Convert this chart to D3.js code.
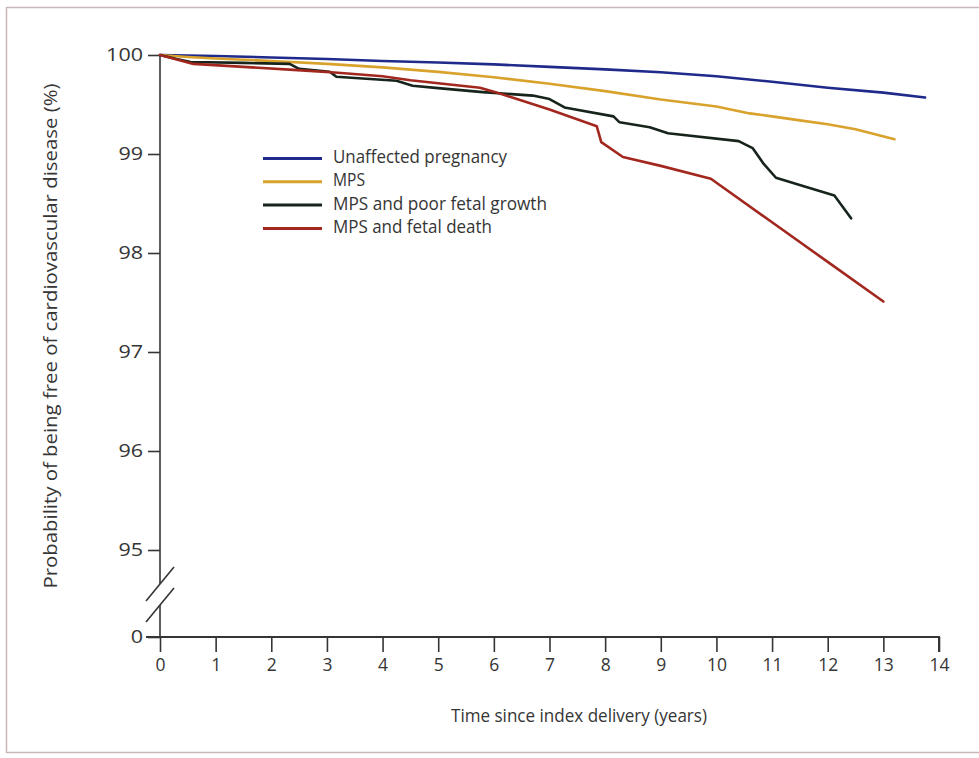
<!DOCTYPE html>
<html>
<head>
<meta charset="utf-8">
<script src="https://cdn.jsdelivr.net/npm/d3@7"></script>
<style>
  html, body { margin: 0; padding: 0; background: #ffffff; }
  svg { display: block; }
  text { font-family: "Open Sans", "Noto Sans", sans-serif; fill: #353535; }
</style>
</head>
<body>
<svg id="chart" width="979" height="758"></svg>
<script>
// ---------- data ----------
const xTicks = [0,1,2,3,4,5,6,7,8,9,10,11,12,13,14];
const yTicks = [0,95,96,97,98,99,100];
const seriesNames = ["Unaffected pregnancy","MPS","MPS and poor fetal growth","MPS and fetal death"];
const seriesColors = ["#1f2a8a","#d8a22c","#17241b","#a2281f"];

const unaffected = [[0,100],[1,99.99],[2,99.975],[3,99.96],[4,99.94],[5,99.925],[6,99.905],[7,99.88],[8,99.855],[9,99.825],[10,99.785],[11,99.73],[12,99.67],[13,99.62],[13.75,99.57]];
const mps = [[0,100],[0.5,99.98],[1,99.965],[2,99.94],[3,99.91],[4,99.875],[5,99.83],[6,99.775],[7,99.71],[8,99.635],[9,99.55],[10,99.48],[10.6,99.41],[11,99.38],[11.5,99.34],[12,99.3],[12.5,99.25],[13.2,99.15]];
const poorGrowth = [[0,100],[0.3,99.96],[0.55,99.93],[1.5,99.92],[2.33,99.91],[2.5,99.86],[3.05,99.83],[3.17,99.78],[4.25,99.74],[4.54,99.69],[5,99.665],[5.8,99.625],[6.7,99.59],[7.0,99.555],[7.27,99.47],[8.15,99.38],[8.26,99.32],[8.8,99.27],[9.13,99.21],[10.4,99.13],[10.65,99.06],[10.85,98.9],[11.07,98.76],[11.6,98.67],[12.12,98.58],[12.42,98.35]];
const fetalDeath = [[0,100],[0.6,99.91],[1.5,99.88],[2.4,99.85],[3.2,99.82],[4.0,99.785],[4.5,99.745],[5.75,99.67],[6.0,99.63],[7.0,99.45],[7.85,99.28],[7.93,99.12],[8.32,98.97],[9.0,98.88],[9.9,98.75],[11,98.31],[12,97.91],[13,97.51]];
const seriesData = [unaffected, mps, poorGrowth, fetalDeath];

const yTitle = "Probability of being free of cardiovascular disease (%)";
const xTitle = "Time since index delivery (years)";

// ---------- layout ----------
const svg = d3.select("#chart");
const mLeft = 160, mTop = 55, mRight = 939, zeroY = 637, y95 = 550;

// frame
svg.append("rect")
  .attr("x", 6.5).attr("y", 7.5).attr("width", 1000).attr("height", 745)
  .attr("fill", "none").attr("stroke", "#cbb6b9").attr("stroke-width", 1.5);

const x = d3.scaleLinear().domain([0, 14]).range([mLeft, mRight]);
const y = d3.scaleLinear().domain([0, 95, 100]).range([zeroY, y95, mTop]);
const axisColor = "#353535";

// y axis
const yAxis = svg.append("g").attr("transform", `translate(${mLeft},0)`)
  .call(d3.axisLeft(y).tickValues(yTicks).tickSize(12).tickPadding(5));
yAxis.select(".domain").remove();
yAxis.selectAll(".tick line").attr("stroke", axisColor).attr("stroke-width", 1.6);
yAxis.selectAll(".tick text").style("font-size", "18.5px").attr("fill", "#353535")
  .attr("textLength", d => String(d).length * 12.3).attr("lengthAdjust", "spacingAndGlyphs");

// y axis line with break
const breakTop = y(95) + 34, breakBot = y(95) + 55;
svg.append("line").attr("x1", mLeft).attr("x2", mLeft).attr("y1", y(100)).attr("y2", breakTop)
  .attr("stroke", axisColor).attr("stroke-width", 1.6);
svg.append("line").attr("x1", mLeft).attr("x2", mLeft).attr("y1", breakBot).attr("y2", y(0))
  .attr("stroke", axisColor).attr("stroke-width", 1.6);
[breakTop, breakBot].forEach(b => {
  svg.append("line").attr("x1", mLeft - 14).attr("y1", b + 17)
    .attr("x2", mLeft + 14).attr("y2", b - 17)
    .attr("stroke", axisColor).attr("stroke-width", 1.6);
});

// x axis
const xAxis = svg.append("g").attr("transform", `translate(0,${zeroY})`)
  .call(d3.axisBottom(x).tickValues(xTicks).tickSize(15).tickPadding(6));
xAxis.select(".domain").attr("stroke", axisColor).attr("stroke-width", 2)
  .attr("d", `M${mLeft - 14},0H${mRight}V15`);
xAxis.selectAll(".tick line").attr("stroke", axisColor).attr("stroke-width", 1.6);
xAxis.selectAll(".tick text").style("font-size", "18.5px").attr("fill", "#353535")
  .attr("textLength", d => String(d).length * 10).attr("lengthAdjust", "spacingAndGlyphs");

// titles
svg.append("text").attr("x", 579).attr("y", 717)
  .attr("text-anchor", "middle").attr("dominant-baseline", "middle")
  .style("font-size", "18.5px").attr("textLength", 256).attr("lengthAdjust", "spacingAndGlyphs")
  .text(xTitle);
svg.append("text").attr("transform", `translate(52,336) rotate(-90)`)
  .attr("text-anchor", "middle").attr("dominant-baseline", "middle")
  .style("font-size", "18.5px").attr("textLength", 505).attr("lengthAdjust", "spacingAndGlyphs")
  .text(yTitle);

// lines
const line = d3.line().x(d => x(d[0])).y(d => y(d[1]));
seriesData.forEach((s, i) => {
  svg.append("path").datum(s).attr("d", line)
    .attr("fill", "none").attr("stroke", seriesColors[i])
    .attr("stroke-width", 2.6).attr("stroke-linejoin", "round").attr("stroke-linecap", "round");
});

// legend
const legendWidths = [174, 32, 214, 159];
const legend = svg.append("g").attr("transform", "translate(263,158.5)");
seriesNames.forEach((n, i) => {
  const g = legend.append("g").attr("transform", `translate(0,${i * 23.3})`);
  g.append("line").attr("x1", 0).attr("x2", 59).attr("y1", 0).attr("y2", 0)
    .attr("stroke", seriesColors[i]).attr("stroke-width", 3);
  g.append("text").attr("x", 70).attr("y", 0).attr("dominant-baseline", "middle")
    .style("font-size", "17.5px").attr("textLength", legendWidths[i]).attr("lengthAdjust", "spacingAndGlyphs")
    .text(n);
});
</script>
</body>
</html>
